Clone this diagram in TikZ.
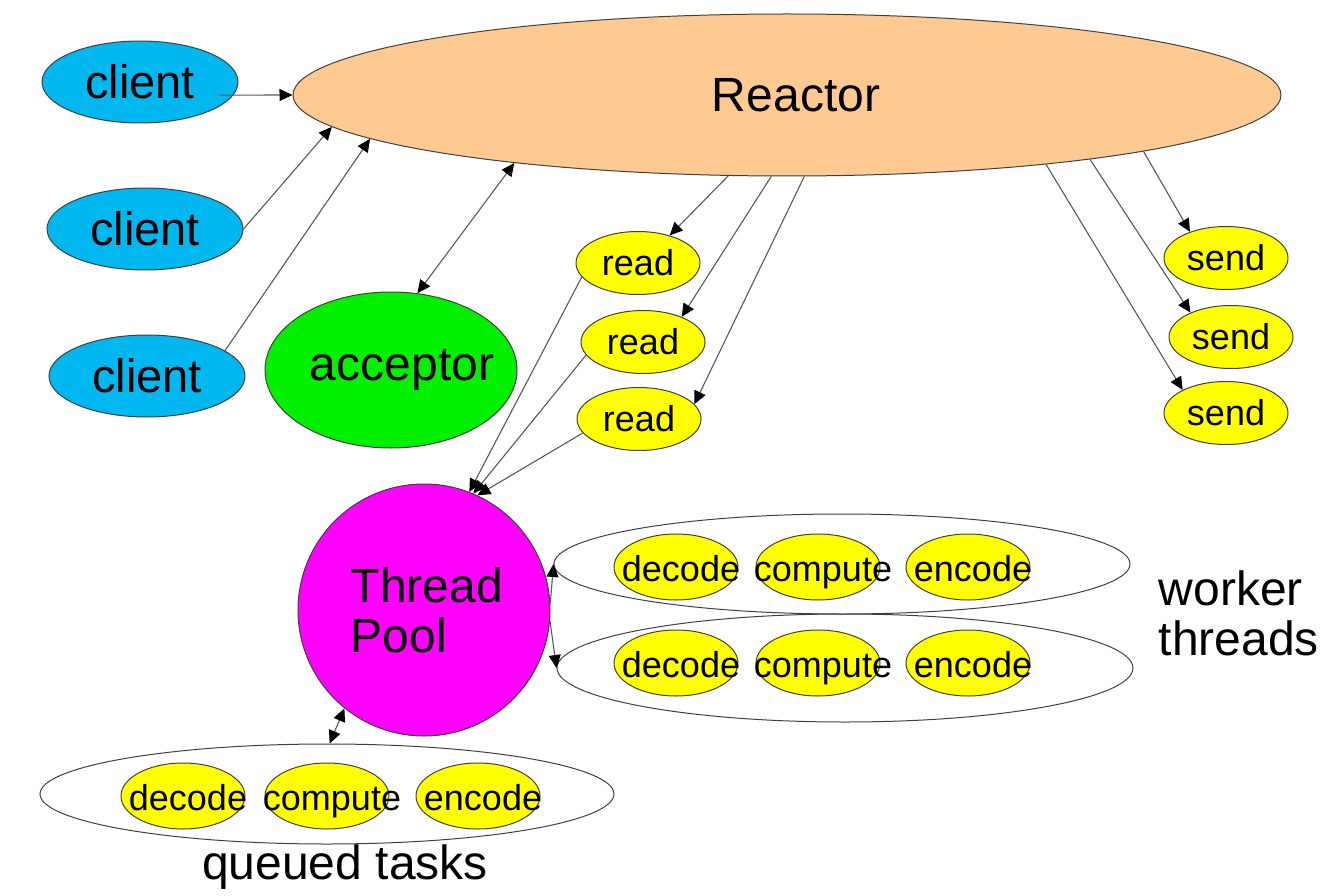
\documentclass[tikz,border=0pt]{standalone}
\usepackage{fontspec}
\setmainfont{Liberation Sans}
\usetikzlibrary{shapes.geometric,arrows.meta}

\definecolor{reactorpeach}{RGB}{255,201,146}
\definecolor{clientblue}{RGB}{0,183,240}
\definecolor{acceptgreen}{RGB}{0,240,0}
\definecolor{poolmagenta}{RGB}{255,0,255}
\definecolor{taskyellow}{RGB}{255,255,0}

\begin{document}
\begin{tikzpicture}[x=1pt, y=-1pt, >={Triangle[length=13pt,width=12pt,color=black]}, line width=1pt]
        \tikzstyle{blob}=[ellipse, draw=black!75, inner sep=0pt]
        \tikzstyle{bigtext}=[font=\fontsize{48}{50}\selectfont]
        \tikzstyle{client}=[blob, fill=clientblue, minimum width=196pt, minimum height=82pt, font=\fontsize{47}{50}\selectfont]
        \tikzstyle{job}=[blob, fill=taskyellow, minimum width=124pt, minimum height=63pt, font=\fontsize{36}{40}\selectfont]
        \tikzstyle{task}=[blob, fill=taskyellow, minimum width=124pt, minimum height=66pt]
        \tikzstyle{tasktext}=[font=\fontsize{36}{40}\selectfont, xshift=5pt, inner sep=0pt, text height=34pt, text depth=6pt]
        \tikzstyle{group}=[ellipse, draw=black!75, minimum width=576pt, minimum height=100pt]
        \tikzstyle{link}=[->, draw=black!65, line width=1.1pt]

        \useasboundingbox (0,0) rectangle (1338,896);

        % reactor, clients and acceptor
        \node[blob, fill=reactorpeach, minimum width=988pt, minimum height=162pt, bigtext] (Reactor) at (787,95) {\hspace*{18pt}Reactor};

        \foreach \name / \x / \y in {1/140/82, 2/145/229, 3/147/376}
            \node[client] (C-\name) at (\x,\y) {client};

        \node[blob, fill=acceptgreen, minimum width=252pt, minimum height=156pt,
              label={[bigtext, xshift=11pt]center:acceptor}] (acceptor) at (391,370) {};

        % read and send handlers
        \foreach \name / \x / \y in {1/638/263, 2/643/342, 3/639/419}
            \node[job] (Rd-\name) at (\x,\y) {read};

        \foreach \name / \x / \y in {1/1226/258, 2/1231/337, 3/1226/413}
            \node[job] (Sd-\name) at (\x,\y) {send};

        \node[circle, draw=black!75, fill=poolmagenta, minimum size=252pt, inner sep=0pt, bigtext, align=left] (pool) at (424,610) {\hspace*{6pt}Thread\\\hspace*{6pt}Pool};

        % worker threads and the queue
        \node[group] (W-1) at (842,564) {};
        \node[group, minimum height=108pt] (W-2) at (845,668) {};
        \node[group, minimum width=574pt] (Q) at (327,794) {};

        \foreach \task / \x in {decode/676, compute/818, encode/968} {
            \node[task, label={[tasktext]center:\task}] (W1-\task) at (\x,567) {};
            \node[task, label={[tasktext]center:\task}] (W2-\task) at (\x,663) {};
        }

        \foreach \task / \x in {decode/183, compute/327, encode/478}
            \node[task, label={[tasktext]center:\task}] (Q-\task) at (\x,796) {};

        \node[bigtext, anchor=west, align=left] (wt) at (1155,613) {worker\\threads};
        \node[bigtext] (qt) at (345,867) {queued tasks};

        % connectors
        \draw[link] ([xshift=-14pt]C-1.-8) -- (Reactor.180);
        \draw[link] (C-2.east) -- (Reactor.184);
        \draw[link] (C-3.18) -- (Reactor.186);
        \draw[link, <->] (acceptor.71) -- (Reactor.194);

        \draw[link] (Reactor.234) -- (Rd-1.41);
        \draw[link] (Reactor.259) -- (Rd-2.33);
        \draw[link] (Reactor.282) -- (Rd-3.15);
        \draw[link] (Rd-1.194) -- (pool.69);
        \draw[link] (Rd-2.193) -- (pool.67);
        \draw[link] (Rd-3.194) -- (pool.65);

        \draw[link] (Reactor.351) -- (Sd-1.144);
        \draw[link] (Reactor.348) -- (Sd-2.149);
        \draw[link] (Reactor.345) -- (Sd-3.152);

        \draw[link] (pool.3) -- (W-1.west);
        \draw[link] (pool.-5) -- (W-2.west);
        \draw[link, <->] (pool.231) -- (Q.87);
\end{tikzpicture}
\end{document}
